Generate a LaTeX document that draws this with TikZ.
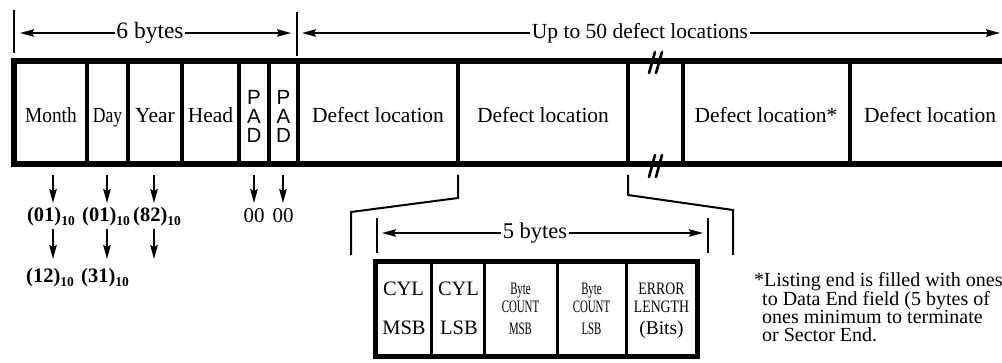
\documentclass[tikz,border=0pt]{standalone}
\usepackage{fontspec}
\usepackage{graphicx}
\setmainfont{Liberation Serif}
\newfontfamily\padfont{Liberation Sans}
\usetikzlibrary{arrows.meta}
\newcommand\cellfnt{\fontsize{21.5}{21.5}\selectfont}
\newcommand\subten{\raisebox{-3.5pt}{\fontsize{13.5}{13.5}\selectfont 10}}
\newcommand\narrowtxt[1]{\scalebox{0.62}[1]{#1}}
\newcommand\semitxt[1]{\scalebox{0.79}[1]{#1}}
\newcommand\xsc[2]{\scalebox{#1}[1]{#2}}
\begin{document}
\begin{tikzpicture}[x=1pt,y=-1pt,
  txt/.style={inner sep=0pt, anchor=base, font=\cellfnt},
  padl/.style={inner sep=0pt, anchor=north, align=center,
     font=\padfont\fontsize{20.5}{18.7}\selectfont},
  small/.style={inner sep=0pt, anchor=base, font=\fontsize{20.5}{20.5}\selectfont},
  tiny/.style={inner sep=0pt, anchor=base, font=\fontsize{17.5}{17.5}\selectfont},
  dimlbl/.style={inner sep=1.5pt, font=\fontsize{21.5}{21.5}\selectfont},
  thin/.style={line width=1.7pt},
  arr/.style={line width=1.6pt, -{Stealth[length=14pt,width=7.5pt,inset=2pt]}},
  outer/.style={line width=5.5pt},
  divider/.style={line width=3.6pt},
  sdivider/.style={line width=3pt},
  bracket/.style={line width=2pt},
  brk/.style={line width=2.6pt, line cap=round},
  num/.style={inner sep=0pt, anchor=base, font=\fontsize{20.5}{20.5}\selectfont\bfseries},
  foot/.style={inner sep=0pt, align=left, font=\fontsize{20}{18}\selectfont},
]
\useasboundingbox (0,0) rectangle (1002,363);
\clip (0,0) rectangle (1002,363);

% ---------- top dimension lines ----------
\draw[thin] (14,10) -- (14,53);
\draw[thin] (297,12) -- (297,56);
\node[dimlbl, font=\fontsize{23.5}{23.5}\selectfont] (six) at (150,33) {6 bytes};
\coordinate (sixL) at (20,33);
\coordinate (sixR) at (291,33);
\draw[arr] (six.west) -- (sixL);
\draw[arr] (six.east) -- (sixR);
\node[dimlbl] (upto) at (640,33) {Up to 50 defect locations};
\coordinate (upL) at (302,33);
\coordinate (upR) at (1000,33);
\draw[arr] (upto.west) -- (upL);
\draw[arr] (upto.east) -- (upR);

% ---------- main record box ----------
\draw[outer] (1010,61) -- (14,61) -- (14,164) -- (1010,164);
\foreach \x in {87,128,182,239,269,298,458,628,683,850}
  \draw[divider] (\x,61) -- (\x,164);

% break marks
\draw[brk] (649,73) -- (655,52);
\draw[brk] (656,73) -- (662,52);
\draw[brk] (649,177) -- (655,155);
\draw[brk] (656,177) -- (662,155);

% cell texts
\node[txt] (month) at (51,123) {\xsc{0.9}{Month}};
\node[txt] (day) at (107.5,123) {\xsc{0.82}{Day}};
\node[txt] (year) at (155,123) {Year};
\node[txt] (head) at (210.5,123) {Head};
\node[padl] (pad1) at (254,90.5) {P\\A\\D};
\node[padl] (pad2) at (283.5,90.5) {P\\A\\D};
\node[txt] (def1) at (378,123) {Defect location};
\node[txt] (def2) at (543,123) {Defect location};
\node[txt] (def3) at (766,123) {Defect location*};
\node[txt, anchor=base west] (def4) at (864,123) {Defect location};

% ---------- values below ----------
\foreach \x/\n in {53/m,107/d,154/y,254/pa,283/pb}{
  \coordinate (\n top) at (\x,175);
  \coordinate (\n tip) at (\x,203);
  \draw[arr] (\n top) -- (\n tip);
}
\node[num] (v1) at (51,222) {(01)\subten};
\node[num] (v2) at (106,222) {(01)\subten};
\node[num] (v3) at (157,222) {(82)\subten};
\node[txt, font=\fontsize{21}{21}\selectfont] (z1) at (254,223) {00};
\node[txt, font=\fontsize{21}{21}\selectfont] (z2) at (283,223) {00};
\foreach \x/\n in {53/m,107/d,154/y}{
  \coordinate (\n top2) at (\x,229);
  \coordinate (\n tip2) at (\x,259);
  \draw[arr] (\n top2) -- (\n tip2);
}
\node[num] (w1) at (50,283) {(12)\subten};
\node[num] (w2) at (105,283) {(31)\subten};

% ---------- expansion brackets ----------
\coordinate (bl1) at (458,175);
\coordinate (bl2) at (458,198);
\coordinate (bl3) at (351,212);
\coordinate (bl4) at (351,255);
\draw[bracket] (bl1) -- (bl2) -- (bl3) -- (bl4);
\coordinate (br1) at (628,175);
\coordinate (br2) at (628,195);
\coordinate (br3) at (733,210);
\coordinate (br4) at (733,255);
\draw[bracket] (br1) -- (br2) -- (br3) -- (br4);

% ---------- 5 bytes ----------
\draw[thin] (377,218) -- (377,253);
\draw[thin] (708,218) -- (708,253);
\node[dimlbl, font=\fontsize{22.5}{22.5}\selectfont] (five) at (535,233) {5 bytes};
\coordinate (fiveL) at (382,233);
\coordinate (fiveR) at (703,233);
\draw[arr] (five.west) -- (fiveL);
\draw[arr] (five.east) -- (fiveR);

\draw[line width=5pt] (375,262) rectangle (697,357);
\foreach \x in {431,484,557,626}
  \draw[sdivider] (\x,262) -- (\x,357);

\node[small] (cyl1) at (403.5,296) {CYL};
\node[small] (msb1) at (404,335) {MSB};
\node[small] (cyl2) at (458.5,296) {CYL};
\node[small] (lsb2) at (459,335) {LSB};
\node[tiny] (b3a) at (520.5,295) {\narrowtxt{Byte}};
\node[tiny] (b3b) at (520.5,313) {\narrowtxt{COUNT}};
\node[tiny] (b3c) at (520.5,334.5) {\narrowtxt{MSB}};
\node[tiny] (b4a) at (591.5,295) {\narrowtxt{Byte}};
\node[tiny] (b4b) at (591.5,313) {\narrowtxt{COUNT}};
\node[tiny] (b4c) at (591.5,334.5) {\narrowtxt{LSB}};
\node[tiny] (e5a) at (661.5,295) {\semitxt{ERROR}};
\node[tiny] (e5b) at (661.5,313) {\semitxt{LENGTH}};
\node[small, font=\fontsize{19.5}{19.5}\selectfont] (e5c) at (661.5,335) {(Bits)};

% ---------- footnote ----------
\node[foot, anchor=north west] (fn) at (754,272) {*Listing end is filled with ones\\
\hspace*{8pt}to Data End field (5 bytes of\\
\hspace*{8pt}ones minimum to terminate\\
\hspace*{8pt}or Sector End.};
\end{tikzpicture}
\end{document}
